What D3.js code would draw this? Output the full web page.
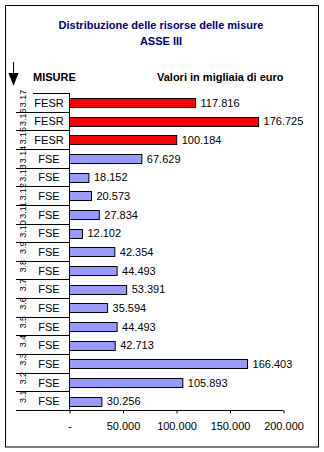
<!DOCTYPE html>
<html>
<head>
<meta charset="utf-8">
<script src="https://cdn.jsdelivr.net/npm/d3@7"></script>
<style>
  body { margin: 0; background: #fff; }
  text { font-family: Arial, "Liberation Sans", sans-serif; }
</style>
</head>
<body>
<script>
const codes = ['3.17', '3.16', '3.15', '3.14', '3.13', '3.12', '3.11', '3.10', '3.9', '3.8', '3.7', '3.6', '3.5', '3.4', '3.3', '3.2', '3.1']
const funds = ['FESR', 'FESR', 'FESR', 'FSE', 'FSE', 'FSE', 'FSE', 'FSE', 'FSE', 'FSE', 'FSE', 'FSE', 'FSE', 'FSE', 'FSE', 'FSE', 'FSE']
const values = [117816, 176725, 100184, 67629, 18152, 20573, 27834, 12102, 42354, 44493, 53391, 35594, 44493, 42713, 166403, 105893, 30256]
const tickValues = [0, 50000, 100000, 150000, 200000]
const tickLabels = ['-', '50.000', '100.000', '150.000', '200.000']

const width = 324, height = 452
const fundColor = {FESR: '#ff0000', FSE: '#9999ff'}
const fmt = v => d3.format(',')(v).replace(/,/g, '.')

let svg = d3.select('body').append('svg')
  .attr('width', width)
  .attr('height', height)

// outer frame
svg.append('rect')
  .attr('x', 5.5).attr('y', 5.5)
  .attr('width', 313).attr('height', 441.5)
  .style('fill', 'none').style('stroke', '#000')

// title
svg.append('text').attr('x', 161).attr('y', 29)
  .attr('text-anchor', 'middle')
  .style('font-size', '11px').style('font-weight', 'bold').style('fill', '#000080')
  .text('Distribuzione delle risorse delle misure')
svg.append('text').attr('x', 161).attr('y', 45)
  .attr('text-anchor', 'middle')
  .style('font-size', '11px').style('font-weight', 'bold').style('fill', '#000080')
  .text('ASSE III')

// arrow + headers
svg.append('line').attr('x1', 13.5).attr('y1', 62).attr('x2', 13.5).attr('y2', 76)
  .style('stroke', '#000').style('stroke-width', 1)
svg.append('path').attr('d', 'M8.5,73 L18.5,73 L13.5,86 Z').style('fill', '#000')
svg.append('text').attr('x', 33).attr('y', 81)
  .style('font-size', '11px').style('font-weight', 'bold').text('MISURE')
svg.append('text').attr('x', 157).attr('y', 81)
  .style('font-size', '11px').style('font-weight', 'bold').text('Valori in migliaia di euro')

const x = d3.scaleLinear().domain([0, 200000]).range([69.5, 283.5])
const y = d3.scaleBand().domain(codes).range([93.5, 410.5]).paddingInner(0.5).paddingOuter(0.25)
const rowH = (410.5 - 93.5) / codes.length

let rows = codes.map((c, i) => ({code: c, fund: funds[i], value: values[i], top: 93.5 + i * rowH}))

// left table lines
svg.selectAll('.rowLine').data(d3.range(codes.length + 1))
  .enter().append('line')
  .attr('class', 'rowLine')
  .attr('x1', i => i === 0 ? 33 : 16).attr('x2', 69.5)
  .attr('y1', i => Math.round(93 + i * rowH) + 0.5)
  .attr('y2', i => Math.round(93 + i * rowH) + 0.5)
  .style('stroke', '#000')

svg.selectAll('.code').data(rows).enter().append('text')
  .attr('class', 'code')
  .attr('transform', d => `translate(25.5, ${d.top + 5}) rotate(-90)`)
  .attr('text-anchor', 'middle')
  .style('font-size', '9px')
  .text(d => d.code)

svg.selectAll('.fund').data(rows).enter().append('text')
  .attr('class', 'fund')
  .attr('x', 49).attr('y', d => d.top + rowH / 2 + 4)
  .attr('text-anchor', 'middle')
  .style('font-size', '11px')
  .text(d => d.fund)

// bars
svg.selectAll('.bar').data(rows).enter().append('rect')
  .attr('class', 'bar')
  .attr('x', x(0))
  .attr('y', d => Math.round(y(d.code)) + 0.5)
  .attr('width', d => x(d.value) - x(0))
  .attr('height', Math.round(y.bandwidth()))
  .style('fill', d => fundColor[d.fund])
  .style('stroke', '#000')

svg.selectAll('.val').data(rows).enter().append('text')
  .attr('class', 'val')
  .attr('x', d => x(d.value) + 5)
  .attr('y', d => y(d.code) + y.bandwidth() / 2 + 4)
  .style('font-size', '11px')
  .text(d => fmt(d.value))

// axes
svg.append('line').attr('x1', 69.5).attr('x2', 69.5).attr('y1', 93).attr('y2', 410.5)
  .style('stroke', '#000')

let xAxis = svg.append('g').attr('transform', 'translate(0, 410.5)')
  .call(d3.axisBottom(x).tickValues(tickValues).tickSize(3).tickSizeOuter(0)
    .tickFormat((d, i) => tickLabels[i]))
xAxis.select('.domain').attr('d', `M${x(0)},0H${x(200000)}`)
xAxis.selectAll('text').style('font-size', '11px').style('font-family', 'Arial, "Liberation Sans", sans-serif')
  .attr('dy', null).attr('y', 19)
</script>
</body>
</html>
